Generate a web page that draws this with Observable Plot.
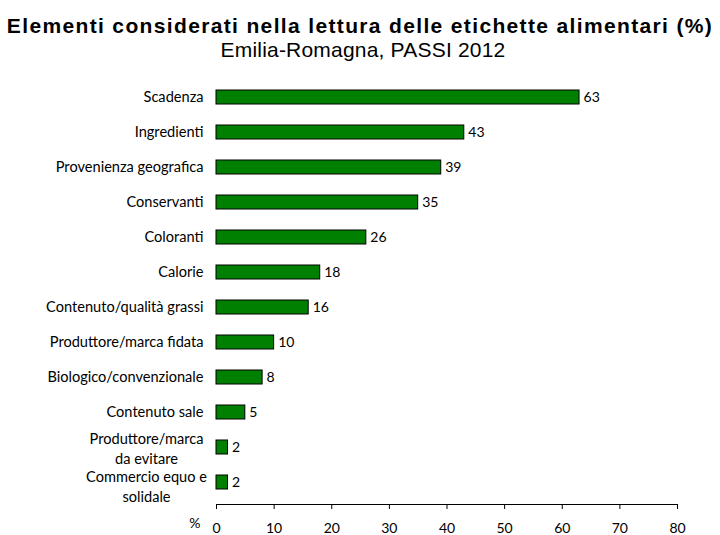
<!DOCTYPE html>
<html>
<head>
<meta charset="utf-8">
<script src="https://cdn.jsdelivr.net/npm/d3@7"></script>
<script src="https://cdn.jsdelivr.net/npm/@observablehq/plot@0.6"></script>
<style>
  html, body { margin: 0; padding: 0; background: #fff; }
  #wrap { width: 720px; height: 535px; overflow: hidden; }
  #head { height: 62px; text-align: center; font-family: "Liberation Sans", Arial, sans-serif; color: #000; }
  #title { font-weight: bold; font-size: 21px; line-height: 24px; padding-top: 14px; letter-spacing: 1.35px; white-space: nowrap; }
  #subtitle { font-size: 21px; line-height: 24px; margin-top: 0px; padding-left: 6px; letter-spacing: 0.2px; }
</style>
</head>
<body>
<div id="wrap">
  <div id="head">
    <div id="title">Elementi considerati nella lettura delle etichette alimentari (%)</div>
    <div id="subtitle">Emilia-Romagna, PASSI 2012</div>
  </div>
  <div id="chart"></div>
</div>
<script>
const categories = [
  "Scadenza",
  "Ingredienti",
  "Provenienza geografica",
  "Conservanti",
  "Coloranti",
  "Calorie",
  "Contenuto/qualità grassi",
  "Produttore/marca fidata",
  "Biologico/convenzionale",
  "Contenuto sale",
  "Produttore/marca\nda evitare",
  "Commercio equo e\nsolidale"
];
const values = [63, 43, 39, 35, 26, 18, 16, 10, 8, 5, 2, 2];
const xTicks = [0, 10, 20, 30, 40, 50, 60, 70, 80];

const data = categories.map((c, i) => ({name: c, value: values[i]}));
const oneLine = data.filter(d => !d.name.includes("\n"));
const twoLineA = data.filter(d => d.name.startsWith("Produttore/marca\n"));
const twoLineB = data.filter(d => d.name.startsWith("Commercio"));

const font = "Lato, 'Open Sans', sans-serif";

const chart = Plot.plot({
  width: 720,
  height: 473,
  marginLeft: 216,
  marginRight: 43,
  marginTop: 16,
  marginBottom: 31,
  style: {fontFamily: font, fontSize: "14px", color: "#000", background: "#fff"},
  x: {domain: [0, 80], ticks: xTicks},
  y: {domain: categories, paddingInner: 0.6, paddingOuter: 0.3, insetBottom: 2.5, axis: null},
  marks: [
    Plot.barX(data, {x: "value", y: "name", fill: "#008000", stroke: "#000", strokeWidth: 1}),
    Plot.text(data, {x: "value", y: "name", text: d => String(d.value), textAnchor: "start", dx: 4, fontSize: 14, fill: "#000"}),
    Plot.text(oneLine, {x: d => 0, y: "name", text: "name", textAnchor: "end", dx: -13, fontSize: 14.6, fill: "#000"}),
    Plot.text(twoLineA, {x: d => 0, y: "name", text: "name", textAnchor: "middle", dx: -70, dy: 0, lineHeight: 1.38, fontSize: 14.6, fill: "#000"}),
    Plot.text(twoLineB, {x: d => 0, y: "name", text: "name", textAnchor: "middle", dx: -70, dy: 3, lineHeight: 1.38, fontSize: 14.6, fill: "#000"}),
    Plot.frame({anchor: "bottom", stroke: "#000", strokeOpacity: 1}),
    Plot.axisX({ticks: xTicks, tickSize: 5, tickPadding: 14, label: null, fontSize: 14, stroke: "#000"}),
    Plot.text(["%"], {frameAnchor: "bottom-left", text: d => d, dx: -16, dy: 23, textAnchor: "end", fontSize: 14, fill: "#000"})
  ]
});
document.getElementById("chart").appendChild(chart);
</script>
</body>
</html>
